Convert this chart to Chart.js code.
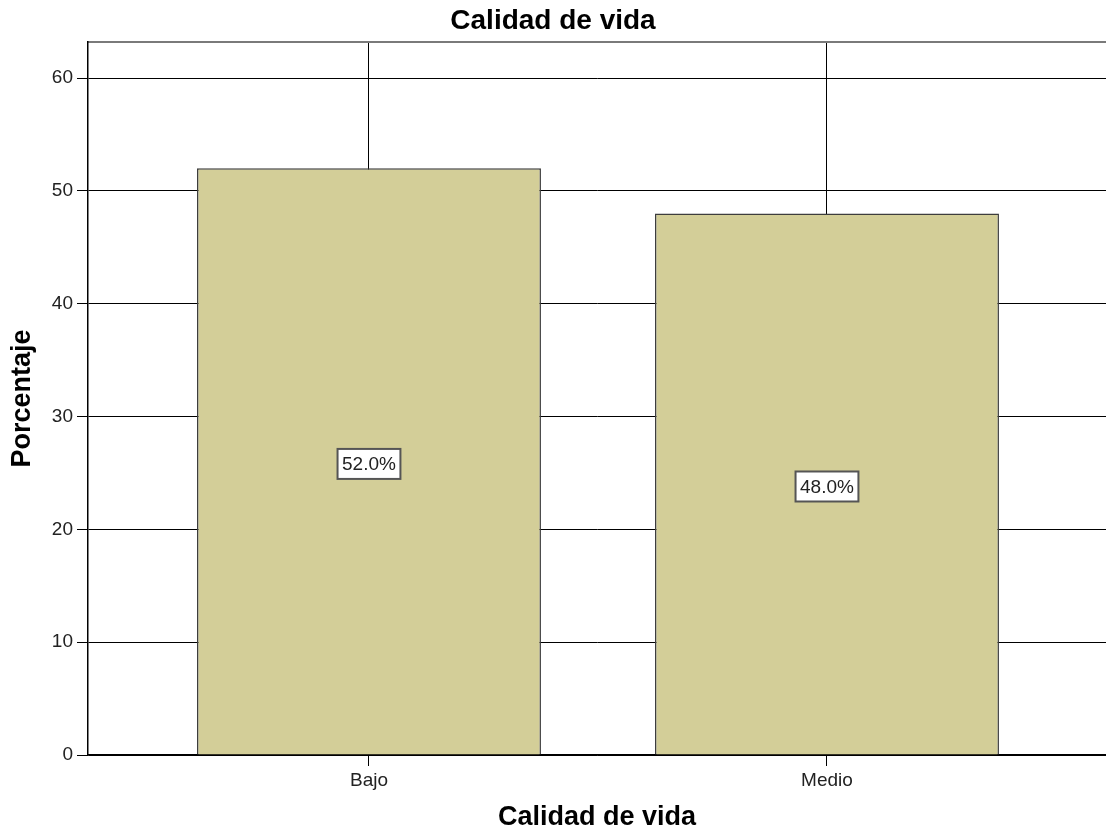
<!DOCTYPE html>
<html>
<head>
<meta charset="utf-8">
<script src="https://cdn.jsdelivr.net/npm/chart.js@4.4.1/dist/chart.umd.min.js"></script>
<style>
  html, body { margin: 0; padding: 0; background: #fff; }
</style>
</head>
<body>
<canvas id="grafica" width="1106" height="834"></canvas>
<script>
    var categorias = ['Bajo', 'Medio']; // Categorias del eje X
    var porcentajes = [52.0, 48.0]; // Porcentaje de cada categoria
    var ticksY = [0, 10, 20, 30, 40, 50, 60]; // Marcas del eje Y

    var fuente = '"Liberation Sans", Arial, sans-serif';
    Chart.defaults.font.family = fuente;

    var ctx = document.getElementById('grafica');
    var puntos = categorias.map(function (c, i) {
        return { x: i + 1, y: porcentajes[i] };
    });

    // Etiqueta con el porcentaje en el centro de cada barra
    var etiquetas = {
        id: 'etiquetas',
        afterDatasetsDraw: function (chart) {
            var c = chart.ctx;
            var meta = chart.getDatasetMeta(0);
            c.save();
            c.font = '19px ' + fuente;
            c.textAlign = 'center';
            c.textBaseline = 'middle';
            meta.data.forEach(function (barra, i) {
                var texto = porcentajes[i].toFixed(1) + '%';
                var w = c.measureText(texto).width + 9;
                var h = 30;
                var cx = barra.x;
                var cy = (barra.y + barra.base) / 2 + 2.5;
                c.fillStyle = '#fff';
                c.fillRect(cx - w / 2, cy - h / 2, w, h);
                c.strokeStyle = '#555';
                c.lineWidth = 2;
                c.strokeRect(cx - w / 2, cy - h / 2, w, h);
                c.fillStyle = '#222';
                c.fillText(texto, cx, cy + 1);
            });
            c.restore();
        }
    };

    var config = {
        type: 'bar',
        data: {
            datasets: [{
                data: puntos,
                backgroundColor: '#d3ce98',
                borderColor: '#3d3d3d',
                borderWidth: 1.5,
                barPercentage: 0.751,
                categoryPercentage: 1
            }]
        },
        options: {
            responsive: false,
            animation: false,
            layout: { padding: 0 },
            plugins: {
                legend: { display: false },
                tooltip: { enabled: false },
                title: {
                    display: true,
                    text: 'Calidad de vida',
                    color: '#000',
                    font: { size: 28, weight: 'bold' },
                    padding: { top: 4, bottom: 0 }
                }
            },
            scales: {
                x: {
                    type: 'linear',
                    position: 'bottom',
                    offset: false,
                    min: 0.3865,
                    max: 2.6092,
                    afterBuildTicks: function (s) {
                        s.ticks = categorias.map(function (c, i) { return { value: i + 1 }; });
                    },
                    afterFit: function (s) { s.height = 79; },
                    ticks: {
                        callback: function (v) { return categorias[v - 1]; },
                        font: { size: 19 },
                        color: '#222',
                        padding: 3,
                        maxRotation: 0,
                        autoSkip: false
                    },
                    grid: { offset: false, color: '#000', lineWidth: 1, tickLength: 11 },
                    border: { color: '#000', width: 1.5 },
                    title: {
                        display: true,
                        text: 'Calidad de vida',
                        color: '#000',
                        font: { size: 27, weight: 'bold' },
                        padding: { top: 0, bottom: 0 }
                    }
                },
                xTop: {
                    type: 'linear',
                    position: 'top',
                    display: true,
                    offset: false,
                    min: 0.3865,
                    max: 2.6092,
                    afterFit: function (s) { s.height = 4.4; },
                    ticks: { display: false },
                    grid: { display: false, drawTicks: false },
                    border: { display: true, color: '#7a7a7a', width: 2 }
                },
                y: {
                    min: 0,
                    max: 63.2,
                    afterBuildTicks: function (s) {
                        s.ticks = ticksY.map(function (v) { return { value: v }; });
                    },
                    afterFit: function (s) { s.width = 88; },
                    ticks: {
                        font: { size: 19 },
                        color: '#222',
                        padding: 4,
                        includeBounds: false
                    },
                    grid: { color: '#000', lineWidth: 1, tickLength: 11 },
                    border: { color: '#000', width: 1.5 },
                    title: {
                        display: true,
                        text: 'Porcentaje',
                        color: '#000',
                        font: { size: 27, weight: 'bold' },
                        padding: { top: 6, bottom: 0 }
                    }
                }
            }
        },
        plugins: [etiquetas]
    };

    window.myBar = new Chart(ctx, config);
</script>
</body>
</html>
